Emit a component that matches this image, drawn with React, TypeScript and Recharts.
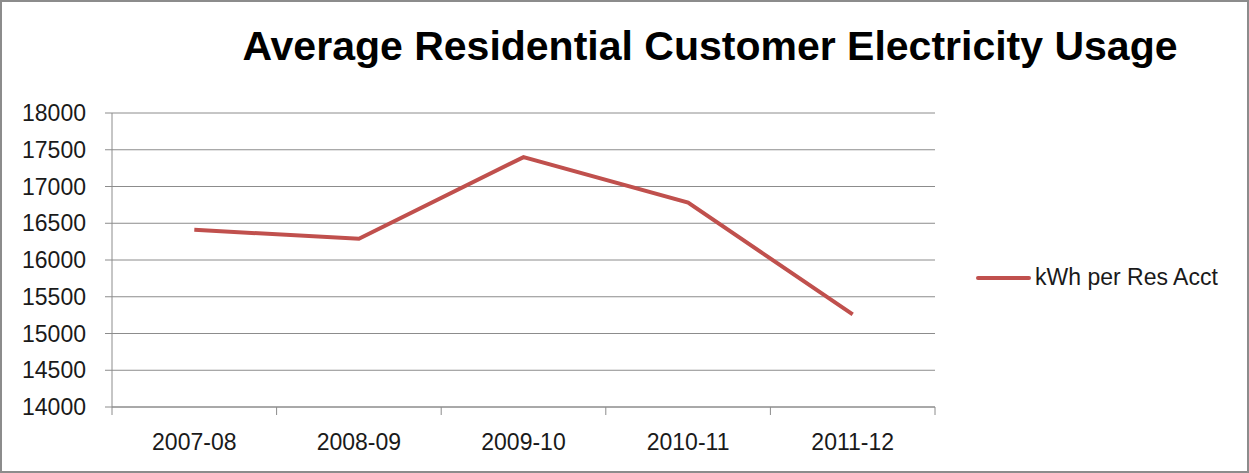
import React from 'react';
import { LineChart, Line, XAxis, YAxis, CartesianGrid, Legend } from 'recharts';

const years = ['2007-08', '2008-09', '2009-10', '2010-11', '2011-12'];
const kwhPerAcct = [16410, 16290, 17400, 16780, 15260];
const yTicks = [14000, 14500, 15000, 15500, 16000, 16500, 17000, 17500, 18000];

const data = years.map((year, i) => ({ year, kwh: kwhPerAcct[i] }));

const W = 1249;
const H = 473;
const margin = { top: 113, right: 314, bottom: 26, left: 0 };
const yAxisWidth = 112;
const band = (W - margin.left - margin.right - yAxisWidth) / years.length;
const font = '"Liberation Sans", Arial, sans-serif';
const red = '#c0504d';
const grey = '#8c8c8c';

// Excel style: label in the middle, tick marks on the category edges
const XTick = (props: any) => {
  const { x, y, payload, index } = props;
  const left = x - band / 2;
  return (
    <g>
      <line x1={left} y1={y - 8} x2={left} y2={y} stroke={grey} />
      {index === years.length - 1 && (
        <line x1={x + band / 2} y1={y - 8} x2={x + band / 2} y2={y} stroke={grey} />
      )}
      <text x={x} y={y + 35} textAnchor="middle" fontSize={23} fontFamily={font} fill="#1a1a1a">
        {payload.value}
      </text>
    </g>
  );
};

const LegendBox = () => (
  <div style={{ display: 'flex', alignItems: 'center', fontFamily: font, fontSize: 23, color: '#1a1a1a' }}>
    <span style={{ display: 'inline-block', width: 55, height: 4, background: red, borderRadius: 2, marginRight: 4 }} />
    kWh per Res Acct
  </div>
);

export default function App() {
  return (
    <div
      style={{
        position: 'fixed',
        left: 0,
        top: 0,
        width: W,
        height: H,
        background: '#fff',
        boxSizing: 'border-box',
        border: `2px solid ${grey}`,
      }}
    >
      <div
        style={{
          position: 'absolute',
          left: 0,
          top: 19,
          width: 1416,
          textAlign: 'center',
          fontFamily: '"Liberation Sans", sans-serif',
          fontWeight: 'bold',
          fontSize: 41,
          color: '#000',
          lineHeight: '50px',
        }}
      >
        Average Residential Customer Electricity Usage
      </div>
      <div style={{ position: 'absolute', left: -2, top: -2 }}>
        <LineChart width={W} height={H} data={data} margin={margin}>
          <CartesianGrid vertical={false} stroke={grey} strokeDasharray="" />
          <XAxis
            dataKey="year"
            stroke={grey}
            tickLine={false}
            tick={<XTick />}
            height={40}
            interval={0}
            padding={{ left: band / 2, right: band / 2 }}
          />
          <YAxis
            domain={[14000, 18000]}
            ticks={yTicks}
            width={yAxisWidth}
            stroke={grey}
            tickSize={7}
            tickMargin={19}
            tick={{ fontSize: 23, fontFamily: font, fill: '#1a1a1a' }}
            interval={0}
          />
          <Legend
            layout="horizontal"
            align="center"
            verticalAlign="middle"
            content={<LegendBox />}
            wrapperStyle={{ left: 976, top: 264, width: 270 }}
          />
          <Line
            type="linear"
            dataKey="kwh"
            stroke={red}
            strokeWidth={4}
            dot={false}
            isAnimationActive={false}
          />
        </LineChart>
      </div>
    </div>
  );
}
